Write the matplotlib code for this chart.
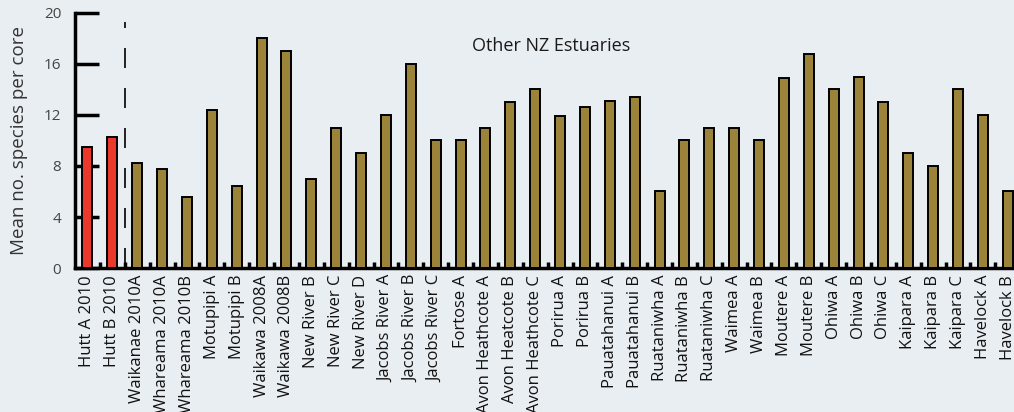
import matplotlib
matplotlib.use("Agg")
import matplotlib.pyplot as plt
import numpy as np

sites = ["Hutt A 2010", "Hutt B 2010", "Waikanae 2010A", "Whareama 2010A",
         "Whareama 2010B", "Motupipi A", "Motupipi B", "Waikawa 2008A",
         "Waikawa 2008B", "New River B", "New River C", "New River D",
         "Jacobs River A", "Jacobs River B", "Jacobs River C", "Fortose A",
         "Avon Heathcote A", "Avon Heatcote B", "Avon Heathcote C",
         "Porirua A", "Porirua B", "Pauatahanui A", "Pauatahanui B",
         "Ruataniwha A", "Ruataniwha B", "Ruataniwha C", "Waimea A",
         "Waimea B", "Moutere A", "Moutere B", "Ohiwa A", "Ohiwa B",
         "Ohiwa C", "Kaipara A", "Kaipara B", "Kaipara C", "Havelock A",
         "Havelock B"]
species = [9.5, 10.3, 8.2, 7.8, 5.6, 12.4, 6.4, 18.0, 17.0, 7.0, 11.0, 9.0,
           12.0, 16.0, 10.0, 10.0, 11.0, 13.0, 14.0, 11.9, 12.6, 13.1, 13.4,
           6.0, 10.0, 11.0, 11.0, 10.0, 14.9, 16.8, 14.0, 15.0, 13.0, 9.0,
           8.0, 14.0, 12.0, 6.0]
n_hutt = 2
yticks = [0, 4, 8, 12, 16, 20]

bg = "#e9eef3"
plt.rcParams["font.family"] = ["Open Sans", "DejaVu Sans"]

fig = plt.figure(figsize=(10.14, 4.12), dpi=100, facecolor=bg)
ax = fig.add_axes([0.074, 0.3495, 0.926, 0.619], facecolor=bg)

x = np.arange(len(sites))
colors = ["#e8392c"] * n_hutt + ["#9b843a"] * (len(sites) - n_hutt)
ax.bar(x, species, width=0.4, color=colors, edgecolor="black", linewidth=1.4,
       zorder=3)

# divider between Hutt sites and the rest
ax.plot([n_hutt - 0.5, n_hutt - 0.5], [0, 19.3], color="black", lw=1.2,
        linestyle=(0, (12, 12)), zorder=2)
ax.text(18.65, 17.4, "Other NZ Estuaries", ha="center", va="center",
        fontsize=13, color="#1a1a1a")

ax.set_xlim(-0.5, 37.25)
ax.set_ylim(0, 20)

for side in ["top", "right"]:
    ax.spines[side].set_visible(False)
ax.spines["left"].set_linewidth(2.5)
ax.spines["bottom"].set_linewidth(2.5)

ax.set_yticks(yticks)
ax.tick_params(axis="y", direction="in", length=17, width=2.5,
               labelsize=11, labelcolor="#444444", pad=10)

ax.set_xticks(x)
ax.set_xticklabels(sites, rotation=90, fontsize=12, color="#111111")
ax.tick_params(axis="x", which="major", length=0, pad=5)
ax.set_xticks(x[:-1] + 0.5, minor=True)
ax.tick_params(axis="x", which="minor", direction="in", length=4, width=2.5)

ax.set_ylabel("Mean no. species per core", fontsize=13.5, color="#333333",
              labelpad=11)

fig.savefig("out.png", dpi=100, facecolor=bg)
